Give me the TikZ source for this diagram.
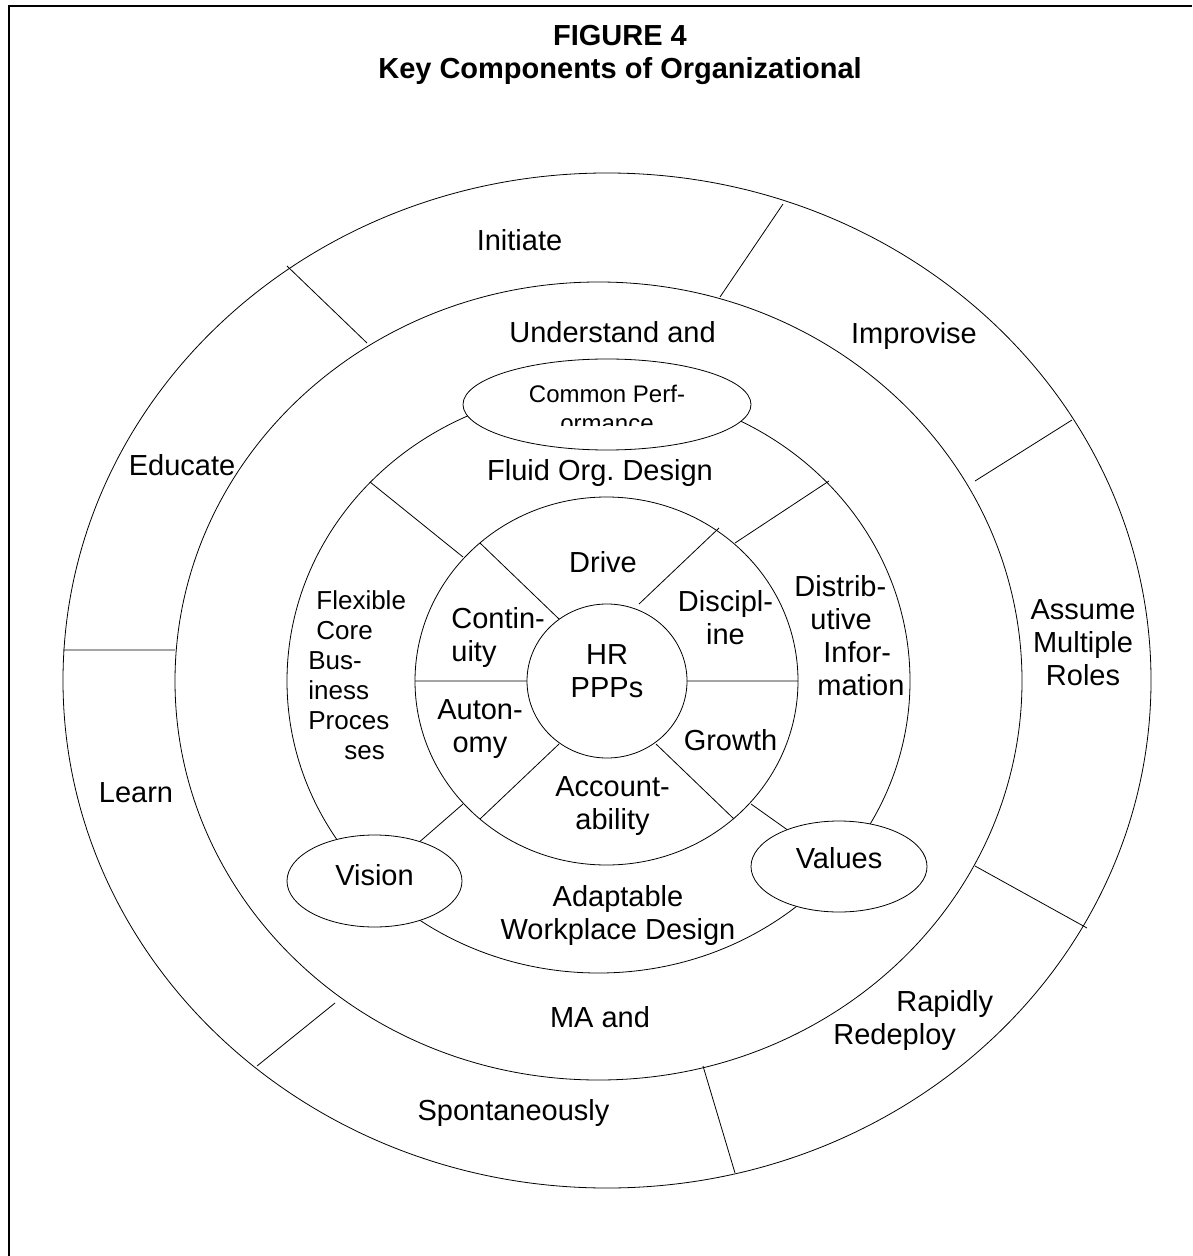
\documentclass[tikz,border=0pt]{standalone}
\usepackage{fontspec}
\setmainfont{Liberation Sans}
\usetikzlibrary{shapes.geometric}
\tikzset{x=0.5pt, y=-0.5pt, line width=0.7pt,
  lbl/.style={font=\fontsize{14.5}{16.5}\selectfont, align=center, inner sep=0pt},
  lbll/.style={lbl, align=left, anchor=west},
  oval/.style={draw, fill=white, ellipse, inner sep=0pt}}

\begin{document}
\begin{tikzpicture}
    \useasboundingbox (0,0) rectangle (1192,1256);
    \draw[line width=1pt] (9,1256) -- (9,6) -- (1192,6);
    \node[lbl, font=\bfseries\fontsize{14.5}{16.5}\selectfont] (title) at (620,54.5) {FIGURE 4\\Key Components of Organizational};

    \draw (607,680.5) ellipse [x radius=272pt, y radius=253.75pt];
    \draw (598.5,681) ellipse [x radius=211.75pt, y radius=199.5pt];
    \draw (598.5,681) ellipse [x radius=155.75pt, y radius=146pt];
    \draw (606.5,681) ellipse [x radius=95.75pt, y radius=92pt];

    \draw (287,266) -- (367,343)
          (783,204) -- (720,297)
          (1072,420) -- (975,481)
          (975,866) -- (1087,928)
          (703,1066) -- (735,1173)
          (335,1003) -- (257,1066)
          (63,650) -- (175,650);
    \draw (370,482) -- (463,557)
          (829,481) -- (735,543);
    \draw (480,543) -- (559,619)
          (719,528) -- (639,604)
          (687,681) -- (798,681)
          (415,681) -- (527,681)
          (656,744) -- (734,819)
          (559,744) -- (480,819);

    \node[oval, minimum width=144pt, minimum height=45.5pt] (perf) at (607,404.5) {};
    \node[oval, minimum width=87.5pt, minimum height=46pt, label={[lbl,yshift=3pt]center:Vision}] (vision) at (374.5,881) {};
    \node[oval, minimum width=88pt, minimum height=45.5pt, label={[lbl,yshift=4.25pt]center:Values}] (values) at (839,866.5) {};
    \node[oval, minimum width=80pt, minimum height=77pt, label={[lbl,yshift=4.75pt]center:HR\\PPPs}] (hr) at (607,681) {};
    \draw (463,804) -- (vision);
    \draw (751,804) -- (values);

    \begin{scope}
        \clip (450,350) rectangle (760,425);
        \node[lbl, font=\fontsize{12}{14.5}\selectfont] (perftxt) at (607,408.5) {Common Perf-\\ormance};
    \end{scope}

    \node[lbl] (initiate) at (519.5,240) {Initiate};
    \node[lbl] (improvise) at (914,336) {Improvise};
    \node[lbl] (roles) at (1083,643) {Assume\\Multiple\\Roles};
    \node[lbll] (redeploy) at (833,1020) {\hspace*{31.5pt}Rapidly\\Redeploy};
    \node[lbl] (spont) at (513.5,1113) {Spontaneously};
    \node[lbl] (learn) at (136,793) {Learn};
    \node[lbl] (educate) at (182,465) {Educate};
    \node[lbl] (understand) at (612.5,332) {Understand and};
    \node[lbl] (ma) at (600,1017) {MA and};
    \node[lbl] (fluid) at (600,473) {Fluid Org.\ Design};
    \node[lbll] (distrib) at (794,636) {Distrib-\\\hspace*{8pt}utive\\\hspace*{14.5pt}Infor-\\\hspace*{11.5pt}mation};
    \node[lbl] (adapt) at (618,915) {Adaptable\\Workplace Design};
    \node[lbll, font=\fontsize{13}{15}\selectfont] (flex) at (308,675.5) {\hspace*{4pt}Flexible\\\hspace*{4pt}Core\\Bus-\\iness\\Proces\\\hspace*{18pt}ses};
    \node[lbl] (drive) at (603,562) {Drive};
    \node[lbl] (discipl) at (725.5,618) {Discipl-\\ine};
    \node[lbl] (growth) at (730.5,740) {Growth};
    \node[lbl] (account) at (612.5,806.5) {Account-\\ability};
    \node[lbl] (auton) at (480,729.5) {Auton-\\omy};
    \node[lbll] (contin) at (451,637.5) {Contin-\\uity};
\end{tikzpicture}
\end{document}
